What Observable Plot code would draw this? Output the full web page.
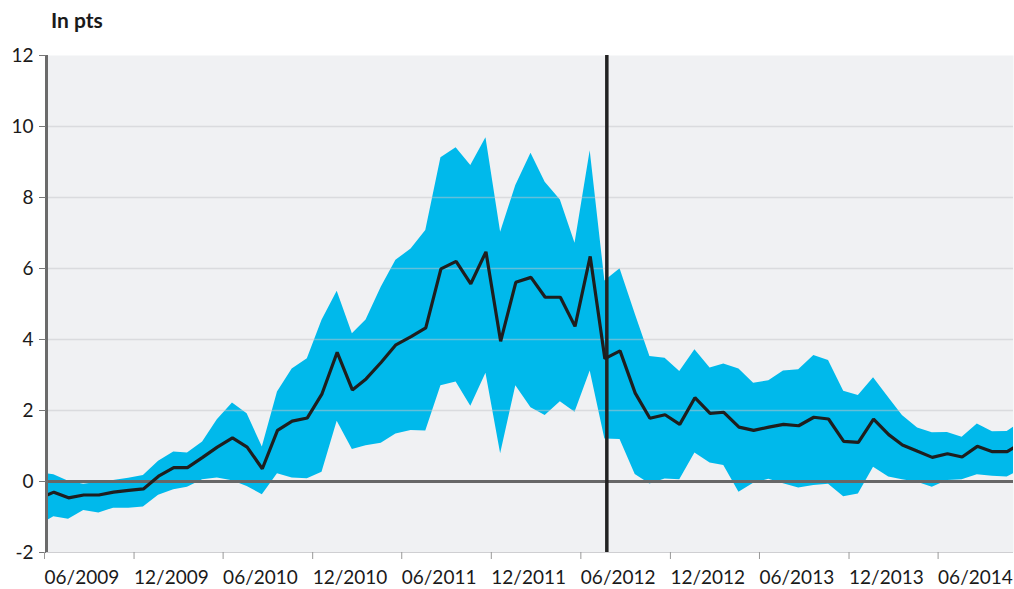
<!DOCTYPE html>
<html><head><meta charset="utf-8">
<script src="https://cdn.jsdelivr.net/npm/d3@7"></script>
<script src="https://cdn.jsdelivr.net/npm/@observablehq/plot@0.6"></script>
<style>
body{margin:0;background:#fff;font-family:Lato,sans-serif;}
#title{height:40px;position:relative;}
#title span{position:absolute;left:51px;top:7px;font-weight:bold;font-size:21px;color:#1a1a1a;}
</style></head><body>
<div id="title"><span>In pts</span></div>
<div id="chart"></div>
<script>
const months = ["2009-05","2009-06","2009-07","2009-08","2009-09","2009-10","2009-11","2009-12",
"2010-01","2010-02","2010-03","2010-04","2010-05","2010-06","2010-07","2010-08","2010-09","2010-10","2010-11","2010-12",
"2011-01","2011-02","2011-03","2011-04","2011-05","2011-06","2011-07","2011-08","2011-09","2011-10","2011-11","2011-12",
"2012-01","2012-02","2012-03","2012-04","2012-05","2012-06","2012-07","2012-08","2012-09","2012-10","2012-11","2012-12",
"2013-01","2013-02","2013-03","2013-04","2013-05","2013-06","2013-07","2013-08","2013-09","2013-10","2013-11","2013-12",
"2014-01","2014-02","2014-03","2014-04","2014-05","2014-06","2014-07","2014-08","2014-09","2014-10","2014-11"];
const mean = [-0.48,-0.30,-0.46,-0.38,-0.38,-0.30,-0.25,-0.21,0.15,0.39,
0.39,0.68,0.97,1.23,0.97,0.36,1.44,1.70,1.79,2.47,
3.64,2.58,2.89,3.36,3.85,4.08,4.33,5.99,6.20,5.57,
6.47,3.95,5.61,5.75,5.19,5.19,4.37,6.34,3.46,3.68,
2.49,1.78,1.88,1.61,2.36,1.92,1.95,1.53,1.44,1.53,
1.61,1.57,1.81,1.76,1.13,1.10,1.76,1.32,1.03,0.85,
0.68,0.78,0.69,0.99,0.84,0.84,1.10];
const upper = [0.25,0.19,0.01,-0.08,-0.02,0.03,0.09,0.17,0.57,0.83,
0.80,1.11,1.74,2.21,1.91,0.97,2.52,3.17,3.46,4.54,
5.36,4.16,4.55,5.47,6.23,6.55,7.07,9.12,9.40,8.90,
9.68,7.02,8.34,9.25,8.43,7.93,6.71,9.32,5.65,5.99,
4.72,3.52,3.47,3.10,3.71,3.20,3.31,3.17,2.77,2.84,
3.11,3.15,3.55,3.41,2.54,2.42,2.92,2.36,1.86,1.51,
1.37,1.38,1.25,1.62,1.40,1.41,1.70];
const lower = [-1.25,-0.99,-1.06,-0.82,-0.89,-0.75,-0.75,-0.72,-0.39,-0.23,
-0.16,0.05,0.10,0.02,-0.14,-0.37,0.22,0.10,0.08,0.26,
1.70,0.90,1.01,1.08,1.34,1.44,1.42,2.70,2.80,2.12,
3.05,0.78,2.70,2.08,1.86,2.25,1.95,3.11,1.20,1.18,
0.20,-0.07,0.07,0.05,0.80,0.52,0.45,-0.30,-0.05,0.06,
-0.06,-0.18,-0.11,-0.08,-0.43,-0.35,0.40,0.13,0.05,-0.02,
-0.16,0.03,0.05,0.19,0.15,0.13,0.34];
const tickMonths = ["2009-06","2009-12","2010-06","2010-12","2011-06","2011-12","2012-06","2012-12","2013-06","2013-12","2014-06"];
const tickLabels = ["06/2009","12/2009","06/2010","12/2010","06/2011","12/2011","06/2012","12/2012","06/2013","12/2013","06/2014"];
const yTicks = [-2,0,2,4,6,8,10,12];
const gridValues = [2,4,6,8,10];
const eventDate = "2012-07-20";
const xDomain = ["2009-06-01","2014-10-29"];

const ym = s => [+s.slice(0,4), +s.slice(5,7)-1];
const midMonth = s => { const [y,m] = ym(s); return new Date(Date.UTC(y, m, 16)); };
const startMonth = s => { const [y,m] = ym(s); return new Date(Date.UTC(y, m, 1)); };
const data = months.map((m,i)=>({date: midMonth(m), mean: mean[i], lo: lower[i], hi: upper[i]}));
const tickDates = tickMonths.map(startMonth);
const labelMap = new Map(tickDates.map((d,i)=>[+d, tickLabels[i]]));

const chart = Plot.plot({
  width: 1014, height: 549,
  marginTop: 15, marginBottom: 37, marginLeft: 46, marginRight: 1,
  style: {fontFamily: "Lato, sans-serif", fontSize: "19px", color: "#1a1a1a", background: "#fff"},
  x: {type: "utc", domain: xDomain.map(d => new Date(d)), axis: null},
  y: {domain: [-2, 12], axis: null},
  marks: [
    Plot.frame({fill: "#f0f1f3", stroke: null}),
    Plot.areaY(data, {x: "date", y1: "lo", y2: "hi", fill: "#00b9eb", clip: true}),
    Plot.ruleY(gridValues, {stroke: "#c4c5ca", strokeOpacity: 0.5, strokeWidth: 1.3}),
    Plot.ruleY([-2], {stroke: "#cfcfd2", strokeWidth: 1}),
    Plot.ruleY([0], {stroke: "#676767", strokeWidth: 3}),
    Plot.ruleX([new Date(eventDate)], {stroke: "#222", strokeWidth: 3.5}),
    Plot.lineY(data, {x: "date", y: "mean", stroke: "#1e1e1e", strokeWidth: 3.2, strokeLinejoin: "miter", clip: true}),
    Plot.ruleX([new Date(xDomain[0])], {stroke: "#6b6b6b", strokeWidth: 3}),
    Plot.axisY({ticks: yTicks, tickFormat: d => String(d), tickSize: 7, tickPadding: 6, stroke: "#777", fill: "#1a1a1a", fontSize: 19}),
    Plot.axisX({ticks: tickDates, tickFormat: d => labelMap.get(+d), textAnchor: "start", dx: -2,
      tickSize: 7, tickPadding: 11, stroke: "#999", fill: "#1a1a1a", fontSize: 19})
  ]
});
document.getElementById("chart").appendChild(chart);
</script>
</body></html>
